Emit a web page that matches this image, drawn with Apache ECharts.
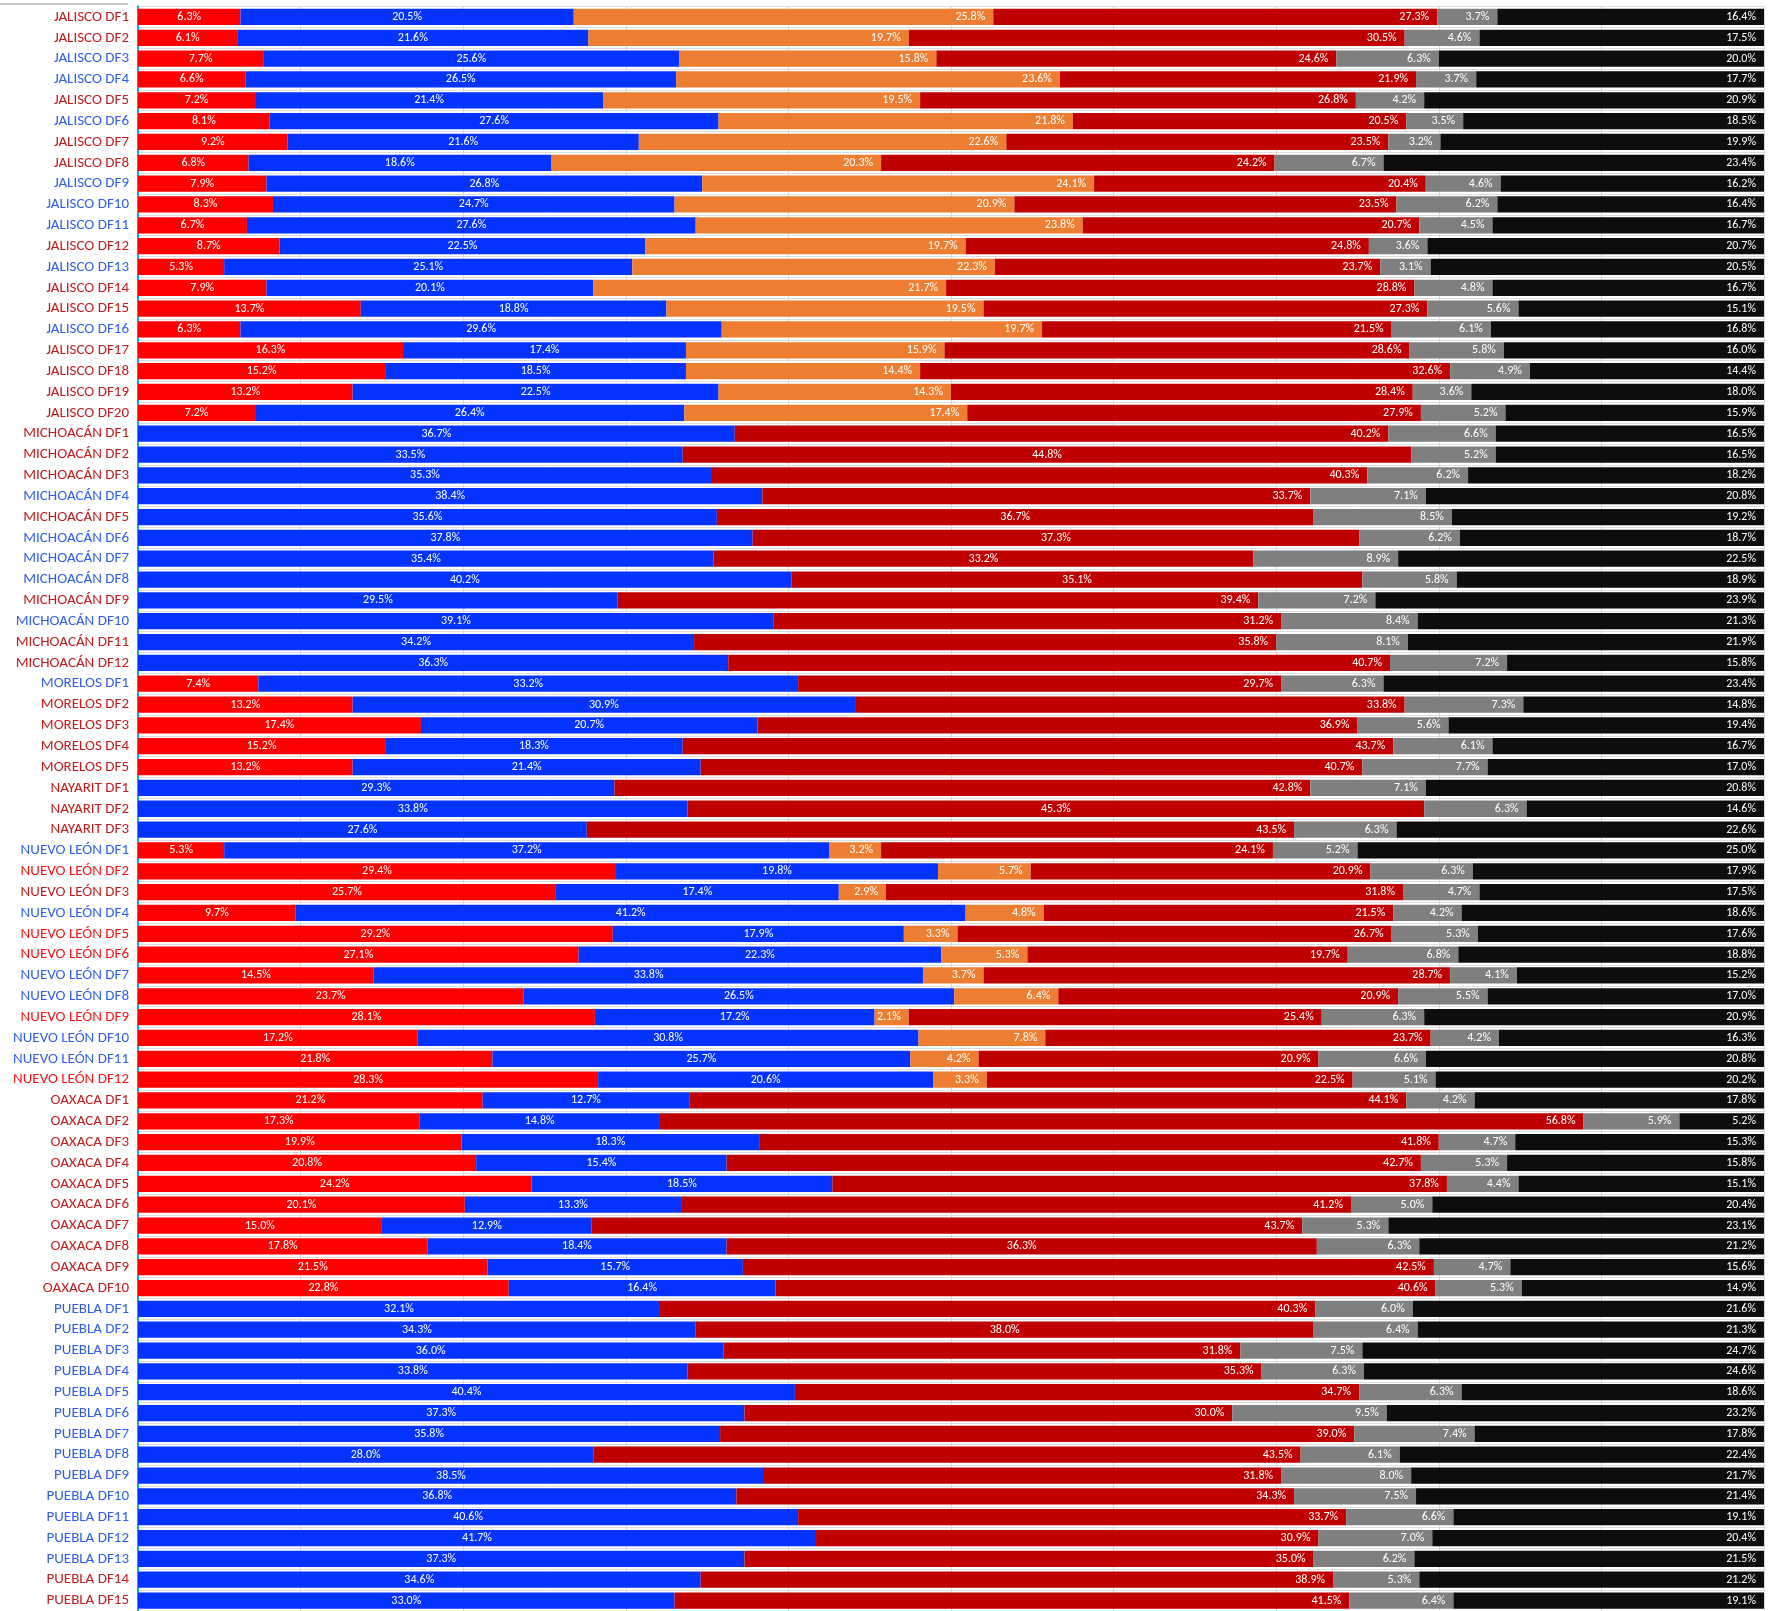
<!DOCTYPE html>
<html><head><meta charset="utf-8">
<script src="https://cdn.jsdelivr.net/npm/echarts@6/dist/echarts.min.js"></script>
<style>html,body{margin:0;padding:0;background:#fff}#c{width:1777px;height:1611px}</style>
</head><body><div id="c"></div>
<script>
// ---- categories (top to bottom) ----
const districts = [
 'JALISCO DF1','JALISCO DF2','JALISCO DF3','JALISCO DF4','JALISCO DF5','JALISCO DF6','JALISCO DF7','JALISCO DF8','JALISCO DF9','JALISCO DF10',
 'JALISCO DF11','JALISCO DF12','JALISCO DF13','JALISCO DF14','JALISCO DF15','JALISCO DF16','JALISCO DF17','JALISCO DF18','JALISCO DF19','JALISCO DF20',
 'MICHOACÁN DF1','MICHOACÁN DF2','MICHOACÁN DF3','MICHOACÁN DF4','MICHOACÁN DF5','MICHOACÁN DF6','MICHOACÁN DF7','MICHOACÁN DF8','MICHOACÁN DF9','MICHOACÁN DF10','MICHOACÁN DF11','MICHOACÁN DF12',
 'MORELOS DF1','MORELOS DF2','MORELOS DF3','MORELOS DF4','MORELOS DF5',
 'NAYARIT DF1','NAYARIT DF2','NAYARIT DF3',
 'NUEVO LEÓN DF1','NUEVO LEÓN DF2','NUEVO LEÓN DF3','NUEVO LEÓN DF4','NUEVO LEÓN DF5','NUEVO LEÓN DF6','NUEVO LEÓN DF7','NUEVO LEÓN DF8','NUEVO LEÓN DF9','NUEVO LEÓN DF10','NUEVO LEÓN DF11','NUEVO LEÓN DF12',
 'OAXACA DF1','OAXACA DF2','OAXACA DF3','OAXACA DF4','OAXACA DF5','OAXACA DF6','OAXACA DF7','OAXACA DF8','OAXACA DF9','OAXACA DF10',
 'PUEBLA DF1','PUEBLA DF2','PUEBLA DF3','PUEBLA DF4','PUEBLA DF5','PUEBLA DF6','PUEBLA DF7','PUEBLA DF8','PUEBLA DF9','PUEBLA DF10','PUEBLA DF11','PUEBLA DF12','PUEBLA DF13','PUEBLA DF14','PUEBLA DF15'
];
// row label colour code: B = blue, R = bright red, D = dark red
const labelCode = [
 'D','D','B','B','D','B','D','D','B','B','B','D','B','D','D','B','D','D','D','D',
 'D','D','D','B','D','B','B','B','D','B','D','D',
 'B','D','D','D','D',
 'D','D','D',
 'B','R','D','B','R','R','B','B','R','B','B','R',
 'D','D','D','D','D','D','D','D','D','D',
 'B','B','B','B','B','B','B','B','B','B','B','B','B','D','D'
];
const N = null;
// ---- series values (% of vote) ----
const redVals = [
 6.3,6.1,7.7,6.6,7.2,8.1,9.2,6.8,7.9,8.3,6.7,8.7,5.3,7.9,13.7,6.3,16.3,15.2,13.2,7.2,
 N,N,N,N,N,N,N,N,N,N,N,N,
 7.4,13.2,17.4,15.2,13.2,
 N,N,N,
 5.3,29.4,25.7,9.7,29.2,27.1,14.5,23.7,28.1,17.2,21.8,28.3,
 21.2,17.3,19.9,20.8,24.2,20.1,15.0,17.8,21.5,22.8,
 N,N,N,N,N,N,N,N,N,N,N,N,N,N,N
];
const blueVals = [
 20.5,21.6,25.6,26.5,21.4,27.6,21.6,18.6,26.8,24.7,27.6,22.5,25.1,20.1,18.8,29.6,17.4,18.5,22.5,26.4,
 36.7,33.5,35.3,38.4,35.6,37.8,35.4,40.2,29.5,39.1,34.2,36.3,
 33.2,30.9,20.7,18.3,21.4,
 29.3,33.8,27.6,
 37.2,19.8,17.4,41.2,17.9,22.3,33.8,26.5,17.2,30.8,25.7,20.6,
 12.7,14.8,18.3,15.4,18.5,13.3,12.9,18.4,15.7,16.4,
 32.1,34.3,36.0,33.8,40.4,37.3,35.8,28.0,38.5,36.8,40.6,41.7,37.3,34.6,33.0
];
const orangeVals = [
 25.8,19.7,15.8,23.6,19.5,21.8,22.6,20.3,24.1,20.9,23.8,19.7,22.3,21.7,19.5,19.7,15.9,14.4,14.3,17.4,
 N,N,N,N,N,N,N,N,N,N,N,N,
 N,N,N,N,N,
 N,N,N,
 3.2,5.7,2.9,4.8,3.3,5.3,3.7,6.4,2.1,7.8,4.2,3.3,
 N,N,N,N,N,N,N,N,N,N,
 N,N,N,N,N,N,N,N,N,N,N,N,N,N,N
];
const darkRedVals = [
 27.3,30.5,24.6,21.9,26.8,20.5,23.5,24.2,20.4,23.5,20.7,24.8,23.7,28.8,27.3,21.5,28.6,32.6,28.4,27.9,
 40.2,44.8,40.3,33.7,36.7,37.3,33.2,35.1,39.4,31.2,35.8,40.7,
 29.7,33.8,36.9,43.7,40.7,
 42.8,45.3,43.5,
 24.1,20.9,31.8,21.5,26.7,19.7,28.7,20.9,25.4,23.7,20.9,22.5,
 44.1,56.8,41.8,42.7,37.8,41.2,43.7,36.3,42.5,40.6,
 40.3,38.0,31.8,35.3,34.7,30.0,39.0,43.5,31.8,34.3,33.7,30.9,35.0,38.9,41.5
];
const grayVals = [
 3.7,4.6,6.3,3.7,4.2,3.5,3.2,6.7,4.6,6.2,4.5,3.6,3.1,4.8,5.6,6.1,5.8,4.9,3.6,5.2,
 6.6,5.2,6.2,7.1,8.5,6.2,8.9,5.8,7.2,8.4,8.1,7.2,
 6.3,7.3,5.6,6.1,7.7,
 7.1,6.3,6.3,
 5.2,6.3,4.7,4.2,5.3,6.8,4.1,5.5,6.3,4.2,6.6,5.1,
 4.2,5.9,4.7,5.3,4.4,5.0,5.3,6.3,4.7,5.3,
 6.0,6.4,7.5,6.3,6.3,9.5,7.4,6.1,8.0,7.5,6.6,7.0,6.2,5.3,6.4
];
const blackVals = [
 16.4,17.5,20.0,17.7,20.9,18.5,19.9,23.4,16.2,16.4,16.7,20.7,20.5,16.7,15.1,16.8,16.0,14.4,18.0,15.9,
 16.5,16.5,18.2,20.8,19.2,18.7,22.5,18.9,23.9,21.3,21.9,15.8,
 23.4,14.8,19.4,16.7,17.0,
 20.8,14.6,22.6,
 25.0,17.9,17.5,18.6,17.6,18.8,15.2,17.0,20.9,16.3,20.8,20.2,
 17.8,5.2,15.3,15.8,15.1,20.4,23.1,21.2,15.6,14.9,
 21.6,21.3,24.7,24.6,18.6,23.2,17.8,22.4,21.7,21.4,19.1,20.4,21.5,21.2,19.1
];
// rows whose dark-red label sits in the middle of the segment
const darkRedCentered = ['MICHOACÁN DF2','MICHOACÁN DF5','MICHOACÁN DF6','MICHOACÁN DF7','MICHOACÁN DF8','NAYARIT DF2','OAXACA DF8','PUEBLA DF2'];

const FONT = 'Carlito, Lato, "Open Sans", sans-serif';
const codeColor = {B: '#2f5cf0', R: '#ff1010', D: '#c41a1a'};

function fmt(p) { return (p.value == null || p.value === '' ) ? '' : Number(p.value).toFixed(1) + '%'; }
function mk(name, color, vals, pos) {
  return {
    name, type: 'bar', stack: 'all', data: vals,
    barCategoryGap: '22%',
    itemStyle: {color},
    label: {show: true, position: pos, distance: 8, color: '#fff', fontSize: 12, fontFamily: FONT, formatter: fmt},
    emphasis: {disabled: true}
  };
}
const darkRedData = darkRedVals.map((v, i) => darkRedCentered.includes(districts[i])
  ? {value: v, label: {position: 'inside'}} : v);

const chart = echarts.init(document.getElementById('c'), null, {renderer: 'canvas'});
chart.setOption({
  animation: false,
  backgroundColor: '#fff',
  grid: {left: 138, right: 13, top: 6.5, height: 1609, containLabel: false},
  xAxis: {
    type: 'value', min: 0, max: 100, interval: 10,
    axisLabel: {show: false}, axisLine: {show: false}, axisTick: {show: false},
    splitLine: {show: true, lineStyle: {color: '#d9d9d9', width: 1}}
  },
  yAxis: {
    type: 'category', data: districts, inverse: true, offset: 5,
    axisLine: {show: true, lineStyle: {color: '#1ea0dc', width: 2}},
    axisTick: {show: false},
    splitLine: {show: true, lineStyle: {color: '#dcdcdc', width: 1}},
    axisLabel: {
      margin: 4, fontSize: 15, fontFamily: FONT,
      color: (v, i) => codeColor[labelCode[i != null ? i : districts.indexOf(v)]]
    }
  },
  graphic: [{type: 'rect', shape: {x: 0, y: 3, width: 128, height: 2}, style: {fill: '#c8c8c8'}, silent: true}],
  series: [
    mk('Rojo', '#ff0000', redVals, 'inside'),
    mk('Azul', '#0433ff', blueVals, 'inside'),
    mk('Naranja', '#ed7d31', orangeVals, 'insideRight'),
    mk('Rojo oscuro', '#c00000', darkRedData, 'insideRight'),
    mk('Gris', '#7f7f7f', grayVals, 'insideRight'),
    mk('Negro', '#0d0d0d', blackVals, 'insideRight')
  ]
});
</script>
</body></html>
